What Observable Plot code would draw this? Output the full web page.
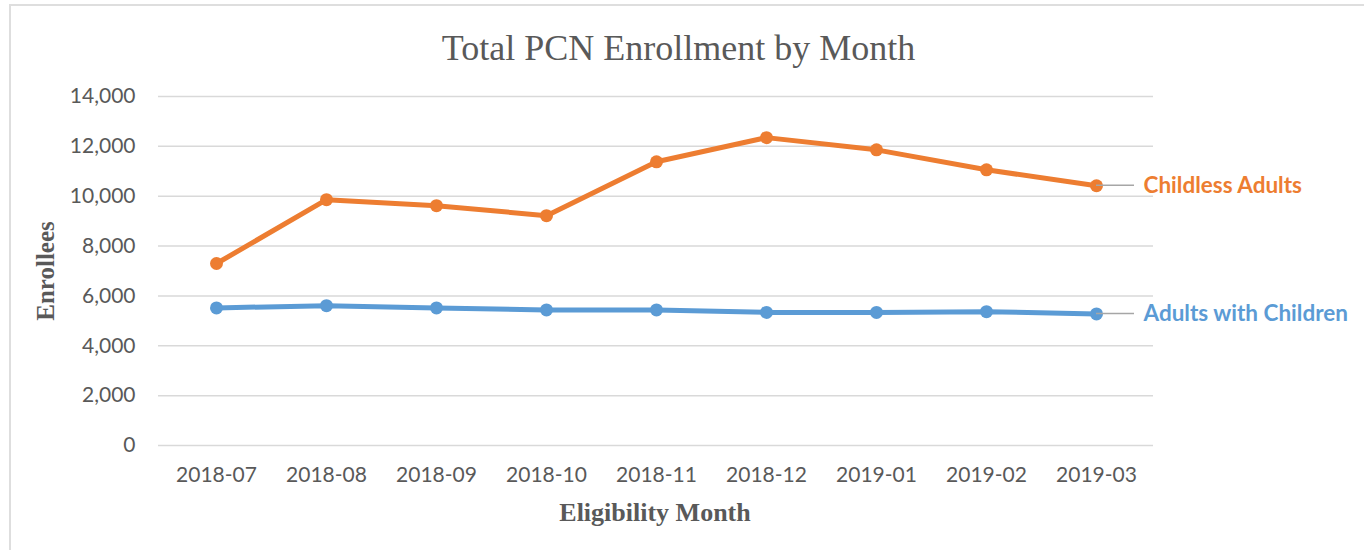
<!DOCTYPE html>
<html>
<head>
<meta charset="utf-8">
<script src="https://cdn.jsdelivr.net/npm/d3@7"></script>
<script src="https://cdn.jsdelivr.net/npm/@observablehq/plot@0.6"></script>
<style>
  html, body { margin: 0; padding: 0; background: #ffffff; }
  #wrap { position: relative; width: 1364px; height: 550px; overflow: hidden; }
  #frame { position: absolute; left: 9px; top: 4px; right: -4px; bottom: -4px;
           border-left: 2px solid #dedede; border-top: 2px solid #dedede; }
  #chart { position: absolute; left: 0; top: 0; }
</style>
</head>
<body>
<div id="wrap"><div id="frame"></div><div id="chart"></div></div>
<script>
const months = ["2018-07","2018-08","2018-09","2018-10","2018-11","2018-12","2019-01","2019-02","2019-03"];
const childlessAdults = [7300, 9860, 9620, 9220, 11380, 12350, 11860, 11060, 10420];
const adultsWithChildren = [5520, 5610, 5520, 5440, 5440, 5340, 5340, 5370, 5280];
const seriesNames = ["Childless Adults", "Adults with Children"];
const seriesColors = ["#ED7D31", "#5B9BD5"];
const yTicks = [0, 2000, 4000, 6000, 8000, 10000, 12000, 14000];
const titleText = "Total PCN Enrollment by Month";
const xLabel = "Eligibility Month";
const yLabel = "Enrollees";

const data = [];
months.forEach((m, i) => data.push({month: m, value: childlessAdults[i], series: seriesNames[0]}));
months.forEach((m, i) => data.push({month: m, value: adultsWithChildren[i], series: seriesNames[1]}));
const lastMonth = months[months.length - 1];
const lastRows = data.filter(d => d.month === lastMonth);

const serif = "'Liberation Serif', 'Times New Roman', serif";
const sans = "Lato, 'Open Sans', sans-serif";

const leader = (index, scales) => {
  const g = d3.create("svg:g");
  lastRows.forEach(d => {
    const x = scales.x(d.month), y = scales.y(d.value);
    g.append("line")
      .attr("x1", x).attr("x2", x + 38)
      .attr("y1", y).attr("y2", y)
      .attr("stroke", "#a6a6a6").attr("stroke-width", 1.5);
  });
  return g.node();
};

const plot = Plot.plot({
  width: 1364,
  height: 550,
  marginLeft: 158,
  marginRight: 211,
  marginTop: 96,
  marginBottom: 105,
  style: {fontFamily: sans, color: "#595959", background: "transparent", overflow: "visible"},
  x: {type: "point", domain: months, padding: 0.5},
  y: {domain: [0, 14000]},
  color: {domain: seriesNames, range: seriesColors},
  marks: [
    Plot.gridY({ticks: yTicks, stroke: "#d9d9d9", strokeOpacity: 1, strokeWidth: 1.5}),
    Plot.axisY({ticks: yTicks, tickFormat: d3.format(","), tickSize: 0, tickPadding: 23, fontSize: 21, label: null}),
    Plot.axisX({tickSize: 0, tickPadding: 22, fontSize: 21, label: null}),
    Plot.line(data, {x: "month", y: "value", z: "series", stroke: "series", strokeWidth: 5, strokeLinejoin: "round"}),
    Plot.dot(data, {x: "month", y: "value", fill: "series", r: 6.5}),
    leader,
    Plot.text(lastRows, {x: "month", y: "value", text: "series", fill: "series", dx: 47, textAnchor: "start", lineAnchor: "middle", fontWeight: "bold", fontSize: 22.5, fontFamily: sans}),
    Plot.text([titleText], {frameAnchor: "top", textAnchor: "middle", lineAnchor: "middle", dx: 22.5, dy: -48.5, fontSize: 36, fontFamily: serif, fill: "#595959"}),
    Plot.text([xLabel], {frameAnchor: "bottom", textAnchor: "middle", lineAnchor: "middle", dx: -1, dy: 67.4, fontSize: 26, fontWeight: "bold", fontFamily: serif, fill: "#595959"}),
    Plot.text([yLabel], {frameAnchor: "left", textAnchor: "middle", lineAnchor: "middle", dx: -113, rotate: -90, fontSize: 25, fontWeight: "bold", fontFamily: serif, fill: "#595959"})
  ]
});
document.getElementById("chart").appendChild(plot);
</script>
</body>
</html>
